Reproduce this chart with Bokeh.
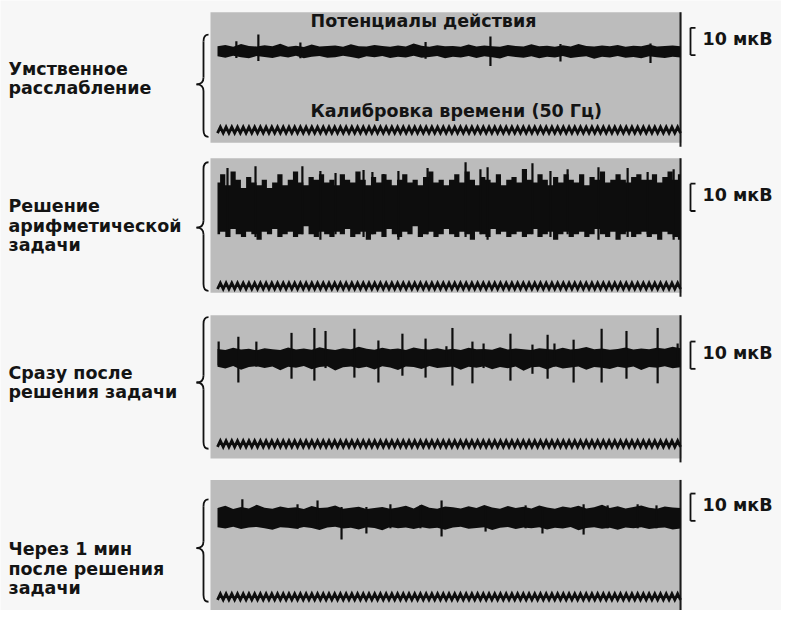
import numpy as np
from bokeh.plotting import figure
from bokeh.models import Range1d
from bokeh.core.properties import value
from bokeh.embed import file_html
from bokeh.resources import INLINE

# ---------------- data ----------------
duration_s = 1.62          # length of each recording
cal_freq_hz = 50           # time calibration (50 Hz)
cal_amp_uv = 1.1           # half-swing of calibration trace
scale_bar_uv = 10          # "10 мкВ" scale bar

title_top = "Потенциалы действия"
title_cal = "Калибровка времени (50 Гц)"
scale_label = "10 мкВ"

label_1 = ["Умственное", "расслабление"]
label_2 = ["Решение", "арифметической", "задачи"]
label_3 = ["Сразу после", "решения задачи"]
label_4 = ["Через 1 мин", "после решения", "задачи"]

# trace envelopes (µV relative to baseline), evenly spaced over the record
up1 = [1.8, 2.3, 1.6, 2.6, 1.9, 1.7, 2.2, 1.8, 2.7, 1.6,
       2.0, 1.5, 2.4, 1.7, 1.9, 2.1, 1.6, 2.5, 1.8, 1.7,
       2.3, 1.9, 1.6, 2.1, 1.7, 2.8, 2.0, 1.6, 2.2, 1.8,
       1.9, 1.6, 2.4, 1.7, 2.1, 1.8, 1.6, 2.3, 1.9, 1.7,
       2.5, 1.8, 2.0, 1.6, 2.2, 1.7, 2.6, 1.9, 1.7, 2.1,
       1.8, 2.3, 1.6, 2.0, 1.8, 2.4, 1.7, 1.9, 2.1, 1.8]
lo1 = [-1.9, -2.4, -1.7, -2.2, -2.6, -1.8, -2.1, -2.5, -1.9, -2.3,
       -1.7, -2.6, -2.0, -1.8, -2.4, -2.2, -1.7, -2.1, -2.7, -1.9,
       -2.2, -1.8, -2.5, -2.0, -2.3, -1.7, -2.4, -2.1, -1.8, -2.6,
       -2.0, -2.3, -1.8, -2.5, -1.9, -2.2, -2.7, -1.8, -2.1, -2.4,
       -1.9, -2.6, -2.0, -2.3, -1.8, -2.5, -2.1, -1.9, -2.8, -2.0,
       -2.3, -1.8, -2.4, -2.1, -2.6, -1.9, -2.2, -2.5, -2.0, -2.3]

up2 = [9, 12, 8, 13, 10, 7, 11, 9, 8, 10,
       7, 9, 12, 8, 10, 13, 9, 8, 11, 10,
       12, 9, 10, 8, 12, 10, 9, 13, 10, 8,
       11, 9, 12, 10, 8, 10, 12, 9, 10, 8,
       11, 13, 9, 10, 8, 10, 12, 9, 13, 10,
       8, 11, 10, 9, 12, 8, 10, 11, 9, 14,
       10, 9, 12, 10, 8, 11, 9, 12, 10, 9,
       12, 8, 11, 10, 13, 9, 10, 12, 10, 9,
       11, 12, 10, 10, 12, 9, 11, 13, 10, 12]
lo2 = [-10, -9, -11, -8, -10, -11, -9, -10, -12, -9,
       -10, -8, -11, -10, -9, -11, -10, -7, -10, -11,
       -9, -10, -11, -9, -10, -8, -11, -10, -9, -12,
       -10, -9, -11, -8, -10, -11, -9, -10, -7, -11,
       -10, -9, -11, -10, -8, -10, -11, -9, -10, -12,
       -9, -10, -11, -8, -10, -9, -11, -10, -9, -11,
       -10, -8, -11, -10, -9, -12, -10, -9, -11, -10,
       -9, -11, -10, -8, -10, -11, -9, -12, -10, -9,
       -11, -10, -9, -11, -10, -12, -9, -10, -11, -12]

up3 = [3.0, 2.6, 3.4, 2.8, 3.1, 2.5, 3.3, 2.9, 2.6, 3.5,
       2.8, 3.2, 2.7, 3.6, 3.0, 2.6, 3.3, 2.9, 3.8, 3.1,
       2.7, 3.4, 2.9, 3.2, 2.6, 3.5, 3.0, 2.8, 3.3, 2.7,
       3.1, 2.6, 3.4, 2.9, 3.0, 2.7, 3.6, 2.8, 3.2, 2.9,
       2.6, 3.3, 3.0, 2.7, 3.4, 2.8, 3.1, 3.7, 2.9, 3.2,
       2.7, 3.0, 3.5, 2.8, 3.2, 2.9, 3.4, 3.1, 3.8, 3.3]
lo3 = [-3.5, -4.2, -3.2, -4.6, -3.6, -3.3, -4.0, -3.4, -4.8, -3.5,
       -3.9, -3.2, -4.4, -3.6, -3.3, -4.9, -3.7, -3.4, -4.1, -3.5,
       -4.5, -3.3, -3.8, -4.7, -3.4, -3.6, -4.3, -3.2, -4.0, -3.7,
       -3.4, -4.6, -3.5, -3.9, -3.3, -4.4, -3.6, -4.1, -3.4, -5.0,
       -3.7, -3.5, -4.5, -3.3, -4.2, -3.8, -3.4, -4.6, -3.6, -3.9,
       -4.3, -3.5, -4.0, -3.4, -4.7, -3.6, -3.9, -3.3, -4.1, -3.7]

up4 = [3.6, 4.5, 3.3, 4.0, 3.5, 4.8, 3.7, 3.4, 4.2, 3.6,
       3.9, 3.3, 4.4, 3.6, 3.8, 4.6, 3.4, 3.7, 4.1, 3.3,
       3.6, 4.0, 3.4, 3.8, 4.5, 3.5, 4.9, 3.7, 3.4, 4.2,
       3.9, 3.5, 4.3, 3.6, 4.7, 3.8, 3.4, 4.4, 3.6, 4.1,
       3.5, 4.6, 3.8, 3.4, 4.2, 3.7, 4.5, 3.5, 3.9, 4.8,
       3.6, 4.3, 3.5, 4.0, 4.6, 3.7, 3.4, 4.2, 3.8, 3.6]
lo4 = [-3.4, -3.9, -3.2, -4.1, -3.5, -3.3, -3.8, -4.3, -3.4, -3.6,
       -4.0, -3.3, -3.7, -4.4, -3.5, -3.2, -3.9, -3.6, -4.2, -3.4,
       -3.7, -4.5, -3.3, -3.8, -3.5, -4.1, -3.4, -3.9, -3.6, -4.3,
       -3.5, -3.2, -4.0, -3.7, -3.4, -4.4, -3.6, -3.3, -4.1, -3.5,
       -3.8, -3.4, -4.2, -3.6, -3.9, -3.3, -4.5, -3.7, -3.4, -4.0,
       -3.6, -4.3, -3.5, -3.8, -3.4, -4.1, -3.7, -3.5, -4.2, -3.9]

# action-potential spikes: time (s), peak (µV), trough (µV)
spk1_t = [0.066, 0.143, 0.290, 0.728, 0.955, 1.200, 1.515]
spk1_top = [3.6, 6.1, 3.2, 3.4, 5.4, 2.6, 2.8]
spk1_bot = [-2.5, -3.6, -2.6, -2.8, -5.4, -3.8, -4.3]

spk2_t = [0.035, 0.133, 0.297, 0.360, 0.413, 0.511, 0.542, 0.581, 0.633, 0.735,
          0.868, 0.920, 0.945, 1.102, 1.165, 1.225, 1.333, 1.435, 1.505, 1.596]
spk2_top = [14.3, 15.0, 15.0, 13.2, 12.5, 13.6, 12.9, 12.1, 13.2, 14.3,
            16.4, 13.9, 14.6, 16.1, 13.2, 13.9, 14.6, 14.3, 12.9, 13.9]
spk2_bot = [-10, -11, -10, -12, -10, -11, -10, -10, -12, -10,
            -11, -10, -12, -10, -11, -10, -12, -11, -10, -12]

spk3_t = [0.004, 0.073, 0.136, 0.259, 0.339, 0.378, 0.479, 0.563, 0.647, 0.728,
          0.801, 0.822, 0.892, 0.931, 1.025, 1.102, 1.155, 1.179, 1.246, 1.344,
          1.431, 1.540, 1.610]
spk3_top = [5.7, 7.5, 5.7, 8.9, 10.7, 9.6, 10.4, 6.1, 8.6, 6.8,
            4.0, 10.7, 5.7, 5.0, 8.6, 4.6, 8.2, 5.0, 6.4, 10.4,
            9.6, 10.7, 5.0]
spk3_bot = [-3.0, -9.3, -3.5, -7.9, -8.6, -4.0, -7.5, -9.3, -6.8, -7.5,
            -3.5, -10.4, -9.6, -4.0, -8.6, -6.1, -7.9, -3.5, -9.3, -9.3,
            -7.9, -9.6, -3.5]

spk4_t = [0.087, 0.280, 0.350, 0.434, 0.521, 0.605, 0.710, 0.784, 0.938, 1.078,
          1.137, 1.281, 1.365, 1.470, 1.536]
spk4_top = [6.8, 5.0, 6.4, 4.0, 4.0, 5.0, 4.6, 6.4, 4.0, 4.6,
            4.0, 5.0, 4.6, 5.0, 4.6]
spk4_bot = [-3.5, -4.0, -3.5, -7.9, -5.7, -3.8, -3.8, -6.8, -5.0, -3.8,
            -5.7, -6.1, -3.8, -3.8, -3.8]

# ---------------- layout (picture pixels) ----------------
W, H = 781, 610
IMG_H = 626
PX0, PX1 = 217, 680               # t = 0 .. duration
px_per_s = (PX1 - PX0) / duration_s
px_per_uv = 2.8


def X(px):
    return (px - PX0) / px_per_s


def Y(py):
    return (IMG_H - py) / px_per_uv


panels = [
    dict(top=12, bot=146, trace=52, cal=133, bt=35, bb=140, tip=86, sy=40,
         up=up1, lo=lo1, st=spk1_t, stop=spk1_top, sbot=spk1_bot, label=label_1, ly=70),
    dict(top=162, bot=300, trace=212, cal=293, bt=166, bb=298, tip=233, sy=200,
         up=up2, lo=lo2, st=spk2_t, stop=spk2_top, sbot=spk2_bot, label=label_2, ly=211),
    dict(top=323, bot=470, trace=366, cal=455, bt=325, bb=460, tip=392, sy=362,
         up=up3, lo=lo3, st=spk3_t, stop=spk3_top, sbot=spk3_bot, label=label_3, ly=382),
    dict(top=492, bot=630, trace=531, cal=612, bt=512, bb=617, tip=562, sy=518,
         up=up4, lo=lo4, st=spk4_t, stop=spk4_top, sbot=spk4_bot, label=label_4, ly=563),
]

p = figure(width=W, height=H, output_backend="svg", toolbar_location=None,
           x_range=Range1d(X(0), X(W)), y_range=Range1d(Y(IMG_H), Y(0)),
           x_axis_type=None, y_axis_type=None, min_border=0,
           min_border_left=0, min_border_right=0, min_border_top=0, min_border_bottom=0)
p.outline_line_color = None
p.background_fill_color = "#f7f7f7"
p.border_fill_color = "#f7f7f7"

FONT = value("DejaVu Sans")
INK = "#0d0d0d"
text_kw = dict(text_font=FONT, text_font_size="17.5px", text_font_style="bold",
               text_color="#141414", text_baseline="middle")

for i, pn in enumerate(panels):
    # grey photo panel
    p.quad(left=[X(210)], right=[X(681)], top=[Y(pn["top"])], bottom=[Y(pn["bot"])],
           fill_color="#bcbcbc", line_color=None)
    p.segment(x0=[X(680)], y0=[Y(pn["top"])], x1=[X(680)], y1=[Y(pn["bot"] + 4)],
              line_color="#1a1a1a", line_width=2)

    base = Y(pn["trace"])
    n = len(pn["up"])
    t_env = np.linspace(0, duration_s, n)
    y_up = base + np.array(pn["up"], dtype=float)
    y_lo = base + np.array(pn["lo"], dtype=float)
    if i == 1:
        p.varea_step(x=t_env, y1=y_lo, y2=y_up, step_mode="center", fill_color=INK)
    else:
        p.varea(x=t_env, y1=y_lo, y2=y_up, fill_color=INK)

    st = np.array(pn["st"])
    p.segment(x0=st, y0=base + np.array(pn["sbot"]), x1=st, y1=base + np.array(pn["stop"]),
              line_color=INK, line_width=2.2)

    # 50 Hz calibration trace
    t_cal = np.arange(0, duration_s + 1e-9, 1.0 / (2 * cal_freq_hz))
    y_cal = Y(pn["cal"]) + cal_amp_uv * np.where(np.arange(len(t_cal)) % 2 == 0, -1, 1)
    p.line(t_cal, y_cal, line_color=INK, line_width=2.8, line_join="miter")

    # curly brace
    xa, xm, xt, r = 208, 203, 196, 7
    top, bot, mid = pn["bt"], pn["bb"], pn["tip"]
    p.quadratic(x0=[X(xa), X(xm), X(xt), X(xm)],
                y0=[Y(top), Y(mid - r), Y(mid), Y(bot - r)],
                x1=[X(xm), X(xt), X(xm), X(xa)],
                y1=[Y(top + r), Y(mid), Y(mid + r), Y(bot)],
                cx=[X(xm), X(xm), X(xm), X(xm)],
                cy=[Y(top), Y(mid), Y(mid), Y(bot)],
                line_color="#111111", line_width=1.8)
    p.segment(x0=[X(xm), X(xm)], y0=[Y(top + r), Y(mid + r)],
              x1=[X(xm), X(xm)], y1=[Y(mid - r), Y(bot - r)],
              line_color="#111111", line_width=1.8)

    # left label
    lines = pn["label"]
    p.text(x=[X(8)] * len(lines), y=[Y(pn["ly"] + 20 * k) for k in range(len(lines))],
           text=lines, text_align="left", **text_kw)

    # 10 µV scale bar
    sb_bot = Y(pn["sy"] + 16)
    sb_top = sb_bot + scale_bar_uv
    p.segment(x0=[X(690), X(690), X(690)], y0=[sb_bot, sb_top, sb_bot],
              x1=[X(690), X(695), X(695)], y1=[sb_top, sb_top, sb_bot],
              line_color="#111111", line_width=1.8)
    p.text(x=[X(702)], y=[Y(pn["sy"])], text=[scale_label], text_align="left", **text_kw)

p.text(x=[X(310)], y=[Y(21)], text=[title_top], text_align="left", **text_kw)
p.text(x=[X(310)], y=[Y(113)], text=[title_cal], text_align="left", **text_kw)

open("out.html", "w").write(file_html(p, INLINE))
